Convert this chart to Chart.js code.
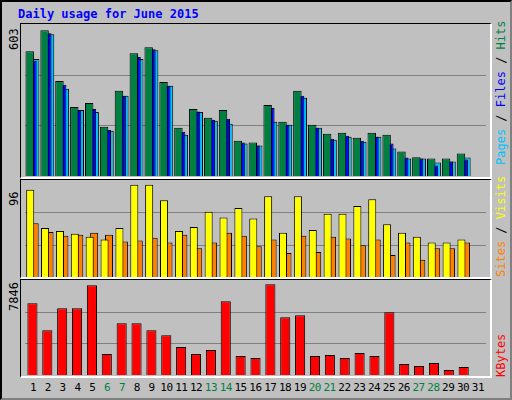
<!DOCTYPE html>
<html><head><meta charset="utf-8">
<script src="https://cdn.jsdelivr.net/npm/chart.js@4"></script>
<style>
body{margin:0;width:512px;height:400px;background:#C0C0C0;position:relative;overflow:hidden;font-family:"DejaVu Sans Mono",monospace;}
#outer{position:absolute;left:0;top:0;width:508px;height:396px;border:2px solid #000;border-right-color:#808080;border-bottom-color:#808080;box-sizing:content-box}
.panel{position:absolute;left:20px;width:469px;border:1px solid #000;border-right:2px solid #fff;border-bottom:2px solid #fff;}
canvas{position:absolute}
.t{position:absolute;font-size:12px;white-space:nowrap}
.xt{position:absolute;font-size:11px;width:16px;text-align:center;letter-spacing:-0.5px}
.rot{transform-origin:left top;transform:rotate(-90deg)}
</style></head><body>
<div id="outer"></div>
<div class="t" style="left:18px;top:7px;color:#0000FF;font-weight:bold">Daily usage for June 2015</div>
<div class="panel" style="top:23px;height:153px"></div>
<div class="panel" style="top:179px;height:97px"></div>
<div class="panel" style="top:279px;height:96px"></div>
<canvas id="c1" width="461" height="151" style="left:25px;top:25px"></canvas>
<canvas id="c2" width="461" height="96" style="left:25px;top:181px"></canvas>
<canvas id="c3" width="461" height="94" style="left:25px;top:281px"></canvas>
<div class="t rot" style="left:7px;top:50px;color:#000">603</div>
<div class="t rot" style="left:7px;top:206px;color:#000">96</div>
<div class="t rot" style="left:7px;top:311px;color:#000">7846</div>
<div class="t rot" style="left:494px;top:165px"><span style="color:#00C0FF">Pages</span><span style="color:#000"> / </span><span style="color:#0000FF">Files</span><span style="color:#000"> / </span><span style="color:#008040">Hits</span></div>
<div class="t rot" style="left:494px;top:277px"><span style="color:#FF8000">Sites</span><span style="color:#000"> / </span><span style="color:#FFFF00">Visits</span></div>
<div class="t rot" style="left:494px;top:377px"><span style="color:#FF0000">KBytes</span></div>
<div id="xl"></div>
<script>
const days = ["1","2","3","4","5","6","7","8","9","10","11","12","13","14","15","16","17","18","19","20","21","22","23","24","25","26","27","28","29","30","31"];
const weekend = [6,7,13,14,20,21,27,28];
const hits  = [498,582,379,276,292,197,340,490,514,375,193,268,233,264,141,134,284,217,340,205,169,173,153,173,165,98,75,70,70,90,0];
const files = [460,570,364,264,268,184,320,475,506,360,177,258,225,229,134,122,272,205,320,193,149,161,141,157,130,74,70,42,58,66,0];
const pages = [467,566,348,264,256,181,320,467,502,360,165,256,221,209,130,122,217,205,312,193,145,157,137,157,110,70,70,54,58,74,0];
const sites = [91,51,48,45,42,39,51,96,96,80,48,52,68,62,72,61,84,46,84,49,66,66,74,81,55,46,42,36,36,39,0];
const visits= [56,47,43,44,46,44,37,38,41,36,44,30,36,46,43,32,39,25,43,26,42,40,33,39,23,36,18,30,30,36,0];
const kbytes= [6070,3794,5648,5648,7587,1770,4384,4384,3794,3372,2360,1770,2108,6238,1602,1433,7671,4889,5058,1602,1686,1433,1855,1602,5311,927,759,1012,422,674,0];

const xl=document.getElementById('xl');
days.forEach((d,i)=>{const e=document.createElement('div');e.className='xt';e.textContent=d;
 e.style.left=(33+i*14.83-8)+'px';e.style.top='381px';
 e.style.color=weekend.includes(+d)?'#008040':'#000';xl.appendChild(e);});

function mk(id,sets,max,cp,bp){
 new Chart(document.getElementById(id),{type:'bar',
  data:{labels:days,datasets:sets.map(s=>({data:s[0],backgroundColor:s[1],borderColor:'#000',borderWidth:1,borderSkipped:'bottom',categoryPercentage:cp,barPercentage:bp}))},
  options:{responsive:false,devicePixelRatio:1,animation:false,layout:{padding:0},
   plugins:{legend:{display:false},tooltip:{enabled:false}},
   scales:{x:{display:false},
    y:{min:0,max:max,ticks:{display:false},border:{display:false},
      afterBuildTicks:a=>{a.ticks=[{value:max/3},{value:2*max/3}];},
      grid:{color:'#808080',lineWidth:1,drawTicks:false}}}}});
}
mk('c1',[[hits,'#008040'],[files,'#0000FF'],[pages,'#00C0FF']],603,0.55,3.1);
mk('c2',[[sites,'#FFFF00'],[visits,'#FF8000']],100,0.6,1.8);
mk('c3',[[kbytes,'#FF0000']],7950,0.68,1);
</script></body></html>
